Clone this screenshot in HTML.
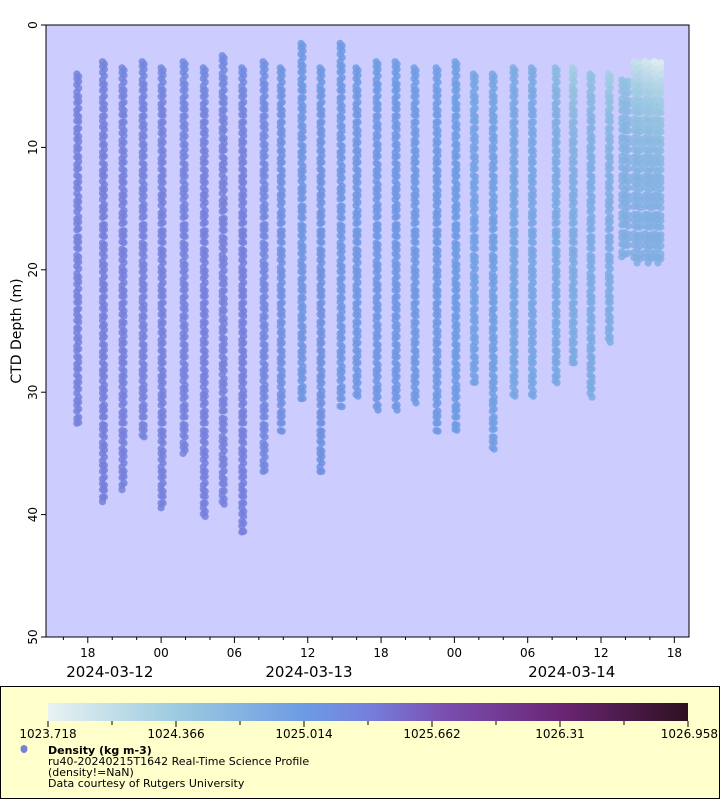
<!DOCTYPE html>
<html><head><meta charset="utf-8">
<style>
body{margin:0;background:#fff;font-family:"DejaVu Sans","Liberation Sans",sans-serif;}
svg text{font-family:"DejaVu Sans","Liberation Sans",sans-serif;}
</style></head>
<body>
<svg id="chart" width="720" height="800" xmlns="http://www.w3.org/2000/svg">
<defs>
<linearGradient id="cbar" x1="0" x2="1" y1="0" y2="0">
<stop offset="0" stop-color="#e8f2f2"/>
<stop offset="0.2" stop-color="#9ccbe0"/>
<stop offset="0.4" stop-color="#6d9be4"/>
<stop offset="0.5" stop-color="#7580dc"/>
<stop offset="0.62" stop-color="#7a4fb0"/>
<stop offset="0.8" stop-color="#6a2674"/>
<stop offset="1" stop-color="#2e1020"/>
</linearGradient>
</defs>
<rect x="46" y="25" width="643" height="612" fill="#ccccff" stroke="#000" stroke-width="1"/>
<g id="dots"></g>
<g id="axes"></g>
<text transform="translate(21,331) rotate(-90)" text-anchor="middle" font-size="14" fill="#000">CTD Depth (m)</text>
<rect x="0.5" y="686.5" width="719" height="112" fill="#ffffcc" stroke="#000"/>
<rect x="48" y="703" width="640" height="18" fill="url(#cbar)"/>
<g id="cbticks"></g>
<ellipse cx="24" cy="749" rx="3.5" ry="4" fill="#7580dc"/>
<text x="48" y="754" font-size="11" font-weight="bold">Density (kg m-3)</text>
<text x="48" y="765" font-size="11">ru40-20240215T1642 Real-Time Science Profile</text>
<text x="48" y="776" font-size="11">(density!=NaN)</text>
<text x="48" y="787" font-size="11">Data courtesy of Rutgers University</text>
</svg>
<script>
// hours since 2024-03-12 00:00
const profileTimes=[-6.9,-4.8,-3.2,-1.55,0,1.8,3.45,5,6.6,8.35,9.75,11.45,13,14.65,15.95,17.6,19.15,20.7,22.5,24.05,25.55,27.1,28.8,30.3,32.25,33.65,35.1,36.6,37.9,38.9,39.8,40.6];
const minDepth=[4,3,3.5,3,3.5,3,3.5,2.5,3.5,3,3.5,1.5,3.5,1.5,3.5,3,3,3.5,3.5,3,4,4,3.5,3.5,3.5,3.5,4,4,4.5,3,3,3];
const maxDepth=[33,39,38,34,39.5,35,40.5,39.5,41.5,36.5,33.5,31,36.5,31.5,30.5,31.5,31.5,31,33.5,33.5,29.5,35,30.5,30.5,29.5,28,30.5,26,19,19.5,19.5,19.5];
const surfDensity=[1025.28,1025.28,1025.27,1025.26,1025.25,1025.22,1025.22,1025.2,1025.2,1025.14,1025.08,1025.03,1025.03,1025.02,1025.02,1025.0,1025.0,1024.97,1024.96,1024.94,1024.86,1024.86,1024.8,1024.8,1024.6,1024.3,1024.5,1024.3,1024.5,1024.0,1023.9,1023.8];
const deepDensity=[1025.32,1025.35,1025.34,1025.32,1025.34,1025.3,1025.34,1025.33,1025.35,1025.25,1025.16,1025.09,1025.13,1025.08,1025.07,1025.07,1025.07,1025.04,1025.04,1025.02,1024.93,1024.96,1024.88,1024.88,1024.85,1024.82,1024.82,1024.8,1024.78,1024.78,1024.78,1024.78];
const depthTicks=[0,10,20,30,40,50];
const hourTicks=[-6,0,6,12,18,24,30,36,42];
const hourLabels=["18","00","06","12","18","00","06","12","18"];
const dayLabels=[["2024-03-12",-4.2],["2024-03-13",12.1],["2024-03-14",33.6]];
const cbLabels=["1023.718","1024.366","1025.014","1025.662","1026.31","1026.958"];
const dMin=1023.718,dMax=1026.958;

const X0=46,X1=689,Y0=25,Y1=637;
const tMin=-9.42,tMax=43.2;
const xs=t=>X0+(t-tMin)/(tMax-tMin)*(X1-X0);
const ys=d=>Y0+d/50*(Y1-Y0);
const NS="http://www.w3.org/2000/svg";
const stops=[[0,[232,242,242]],[0.2,[156,203,224]],[0.4,[109,155,228]],[0.5,[117,128,220]],[0.62,[122,79,176]],[0.8,[106,38,116]],[1,[46,16,32]]];
function cmap(v){let f=Math.max(0,Math.min(1,(v-dMin)/(dMax-dMin)));
 for(let i=1;i<stops.length;i++){if(f<=stops[i][0]){const a=stops[i-1],b=stops[i];const u=(f-a[0])/(b[0]-a[0]);
 return "rgb("+a[1].map((c,k)=>Math.round(c+(b[1][k]-c)*u)).join(",")+")";}} return "rgb(46,16,32)";}
function mk(tag,attrs,parent){const e=document.createElementNS(NS,tag);for(const k in attrs)e.setAttribute(k,attrs[k]);parent.appendChild(e);return e;}

const dots=document.getElementById('dots');
profileTimes.forEach((t,i)=>{
 const casts=i>=28?[[-0.2,0.4,0],[0.05,0.45,0.2],[0.3,0.4,0.1]]:[[0,0.38,0],[0.16,0.42,0.2]];
 casts.forEach(([dt,step,off])=>{
  const cx=xs(t+dt);
  let k=0;
  for(let d=minDepth[i]+off;d<=maxDepth[i];d+=step*(1+0.3*((k++)%3))){
   const f=1-Math.exp(-(d-minDepth[i])/4);
   const dens=surfDensity[i]+(deepDensity[i]-surfDensity[i])*f;
   const c=mk('circle',{cx:cx.toFixed(1),cy:ys(d).toFixed(1),r:3.6,fill:cmap(dens),'fill-opacity':0.85},dots);
   
   
  }
 });
});

const ax=document.getElementById('axes');
depthTicks.forEach(d=>{
 const y=ys(d);
 mk('line',{x1:X0-5,x2:X0,y1:y,y2:y,stroke:'#000'},ax);
 const tx=mk('text',{transform:`translate(${X0-9},${y}) rotate(-90)`,'text-anchor':'middle','font-size':12},ax);
 tx.textContent=d;
 
 
});
for(let h=-8;h<=42;h+=2){const x=xs(h);const major=(h%6===0);
 mk('line',{x1:x,x2:x,y1:Y1,y2:Y1+(major?6:3),stroke:'#000'},ax);}
hourTicks.forEach((h,i)=>{
 const tx=mk('text',{x:xs(h),y:Y1+20,'text-anchor':'middle','font-size':12},ax);
 tx.textContent=hourLabels[i];
 
 
});
dayLabels.forEach(([s,h])=>{
 const tx=mk('text',{x:xs(h),y:Y1+40,'text-anchor':'middle','font-size':15},ax);
 tx.textContent=s;
 
 
});
const cb=document.getElementById('cbticks');
for(let k=0;k<=10;k++){const x=48+k*64;mk('line',{x1:x,x2:x,y1:721,y2:k%2===0?727:725,stroke:'#000'},cb);}
cbLabels.forEach((s,i)=>{
 const x=48+i*128;
 const tx=mk('text',{x:i===5?718:x,y:738,'text-anchor':i===5?'end':'middle','font-size':12},cb);
 tx.textContent=s;
 
 
});
</script>
</body></html>
